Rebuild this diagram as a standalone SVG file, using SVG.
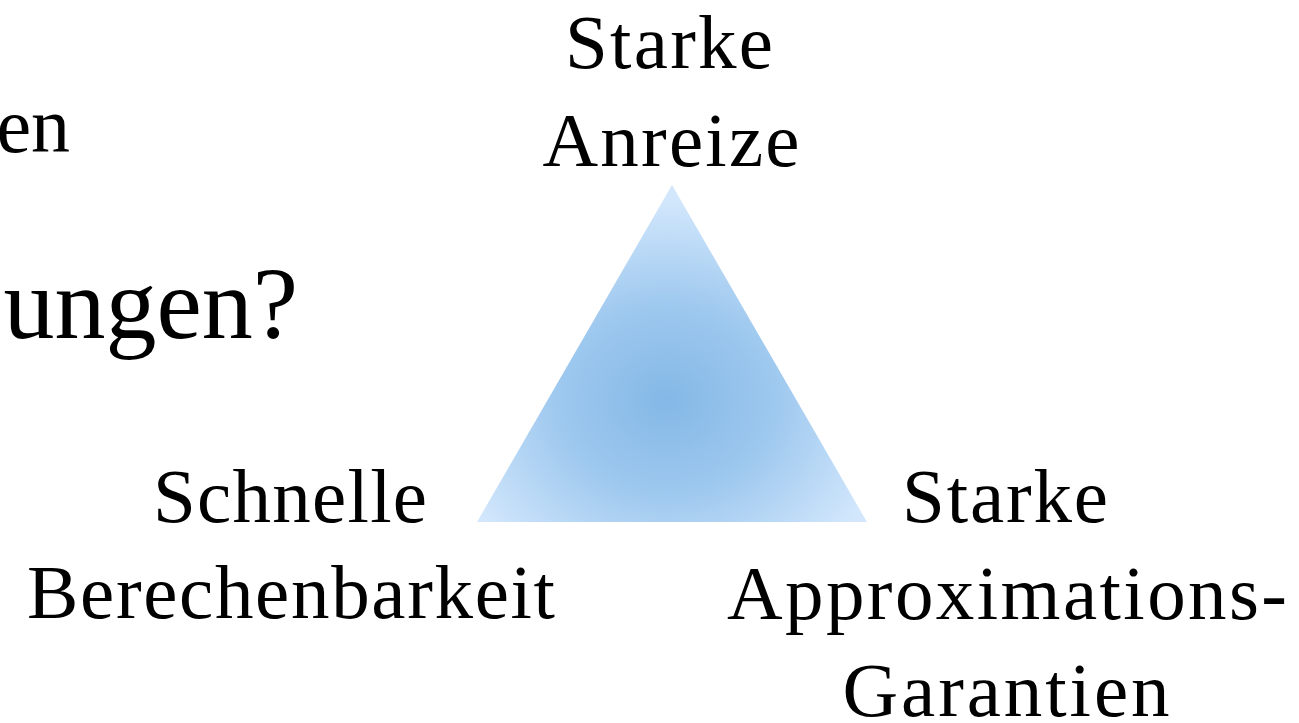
<svg xmlns="http://www.w3.org/2000/svg" width="1299" height="723" viewBox="0 0 1299 723">
<style>
.t{font-family:"Liberation Serif","Times New Roman",serif;fill:#000;}
.l{font-size:77px;text-anchor:middle;}
</style>
<defs>
<radialGradient id="g" gradientUnits="userSpaceOnUse" cx="0" cy="0" r="1" gradientTransform="translate(667 400) scale(230 200)">
<stop offset="0" stop-color="#84b8e6"/>
<stop offset="0.45" stop-color="#9cc7ee"/>
<stop offset="1" stop-color="#d2e7fc"/>
</radialGradient>
</defs>
<rect width="1299" height="723" fill="#fff"/>
<g id="title">
<text class="t" x="70" y="152" font-size="78" text-anchor="end">en</text>
<text class="t" x="298" y="338" font-size="102" text-anchor="end">ungen?</text>
</g>
<g id="triangle">
<polygon points="672,185 867,522 477,522" fill="url(#g)"/>
</g>
<g id="node-top">
<text class="t l" x="669" y="68" textLength="208">Starke</text>
<text class="t l" x="671" y="166" textLength="257">Anreize</text>
</g>
<g id="node-left">
<text class="t l" x="290" y="522" textLength="274">Schnelle</text>
<text class="t l" x="291" y="618" textLength="528">Berechenbarkeit</text>
</g>
<g id="node-right">
<text class="t l" x="1005" y="522" textLength="206">Starke</text>
<text class="t l" x="1007" y="619" textLength="560">Approximations-</text>
<text class="t l" x="1006" y="716" textLength="327">Garantien</text>
</g>
<g id="connectors"/>
</svg>
